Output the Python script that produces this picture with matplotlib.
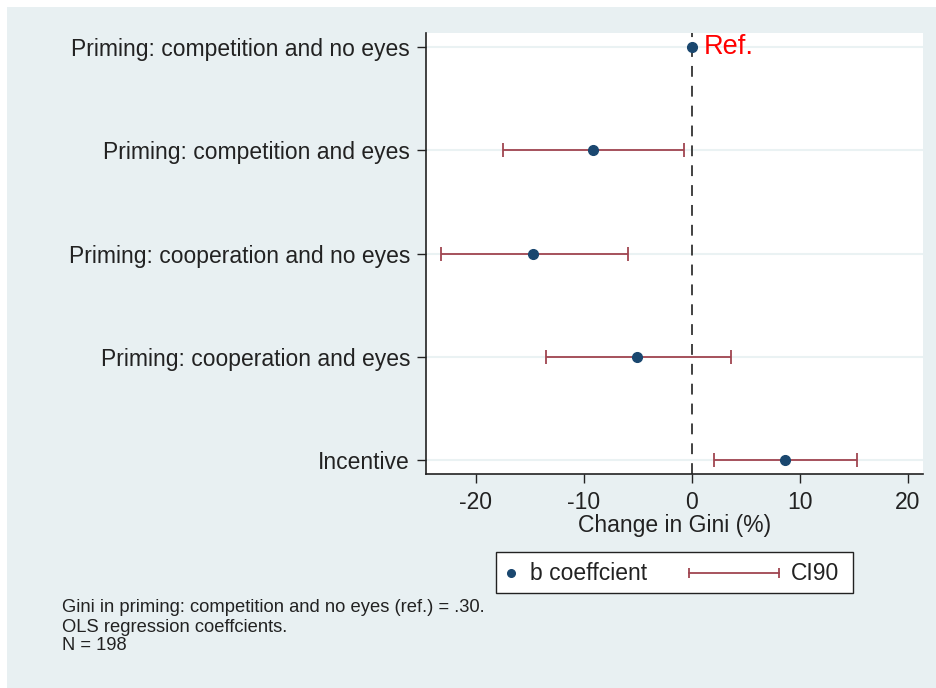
import numpy as np
import matplotlib.pyplot as plt
from matplotlib.patches import Rectangle
from matplotlib.lines import Line2D

plt.rcParams['font.family'] = ['Liberation Sans', 'DejaVu Sans']

# coefficient estimates (% change in Gini) with 90% confidence bounds
labels = ['Priming: competition and no eyes',
          'Priming: competition and eyes',
          'Priming: cooperation and no eyes',
          'Priming: cooperation and eyes',
          'Incentive']
coef = [0.0, -9.15, -14.7, -5.05, 8.6]
ci_low = [np.nan, -17.5, -23.2, -13.45, 2.1]
ci_high = [np.nan, -0.75, -5.9, 3.65, 15.3]
xticks = [-20, -10, 0, 10, 20]
notes = ['Gini in priming: competition and no eyes (ref.) = .30.',
         'OLS regression coeffcients.',
         'N = 198']

navy = '#1a476f'
maroon = '#a04550'
panel = '#e8f0f2'
ink = '#222222'
W, H = 936, 688


def fx(x):
    return x / W


def fy(y):
    return 1 - y / H


fig = plt.figure(figsize=(9.36, 6.88), dpi=100)
fig.patch.set_facecolor('white')
fig.patches.append(Rectangle((fx(7), 0), 1, fy(7), transform=fig.transFigure,
                             facecolor=panel, edgecolor='none', zorder=-10))

ax = fig.add_axes([fx(426), fy(474), fx(923 - 426), (474 - 33) / H])
ax.set_facecolor('white')
ypos = np.arange(1, len(labels) + 1)

for y in ypos:
    ax.axhline(y, color='#eaf2f3', lw=1.5, zorder=0)
ax.axvline(0, color='#333333', lw=1.3, ls=(0, (6, 5)), zorder=1)

lo = np.array(coef) - np.array(ci_low)
hi = np.array(ci_high) - np.array(coef)
ax.errorbar(coef, ypos, xerr=[lo, hi], fmt='none', ecolor=maroon, elinewidth=1.3,
            capsize=5, capthick=1.3, zorder=2)
ax.plot(coef, ypos, 'o', color=navy, ms=7, zorder=3)

ax.text(coef[0] + 1.1, ypos[0], 'Ref.', color='red', fontsize=19.5, va='center', ha='left')

ax.set_xlim(-24.6, 21.4)
ax.set_ylim(5.14, 0.86)
ax.set_yticks(ypos)
ax.set_yticklabels(labels, fontsize=16.5, color=ink)
ax.set_xticks(xticks)
ax.set_xticklabels([str(t) for t in xticks], fontsize=16.5, color=ink)
ax.tick_params(axis='both', length=6.5, width=1, color=ink)
ax.tick_params(axis='y', pad=5)
ax.tick_params(axis='x', pad=6)
ax.set_xlabel('Change in Gini (%)', fontsize=16.5, color=ink, labelpad=0)
for s in ['top', 'right']:
    ax.spines[s].set_visible(False)
for s in ['left', 'bottom']:
    ax.spines[s].set_color(ink)
    ax.spines[s].set_linewidth(1.2)

# legend box below the plot
fig.patches.append(Rectangle((fx(496), fy(593)), fx(853 - 496), (593 - 552) / H,
                             transform=fig.transFigure, facecolor='white',
                             edgecolor=ink, lw=1))
ly = fy(573)
fig.lines.append(Line2D([fx(511.5)], [ly], marker='o', ms=5.5, color=navy, ls='none',
                        transform=fig.transFigure))
fig.text(fx(530), ly, 'b coeffcient', fontsize=16.5, va='center', ha='left', color=ink)
fig.lines.append(Line2D([fx(689), fx(779)], [ly, ly], color=maroon, lw=1.3,
                        marker='|', ms=7, mew=1.3, transform=fig.transFigure))
fig.text(fx(791), ly, 'CI90', fontsize=16.5, va='center', ha='left', color=ink)

for i, line in enumerate(notes):
    fig.text(fx(62), fy(608 + i * 19), line, fontsize=13.2,
             va='center', ha='left', color=ink)

fig.savefig('out.png', dpi=100)
